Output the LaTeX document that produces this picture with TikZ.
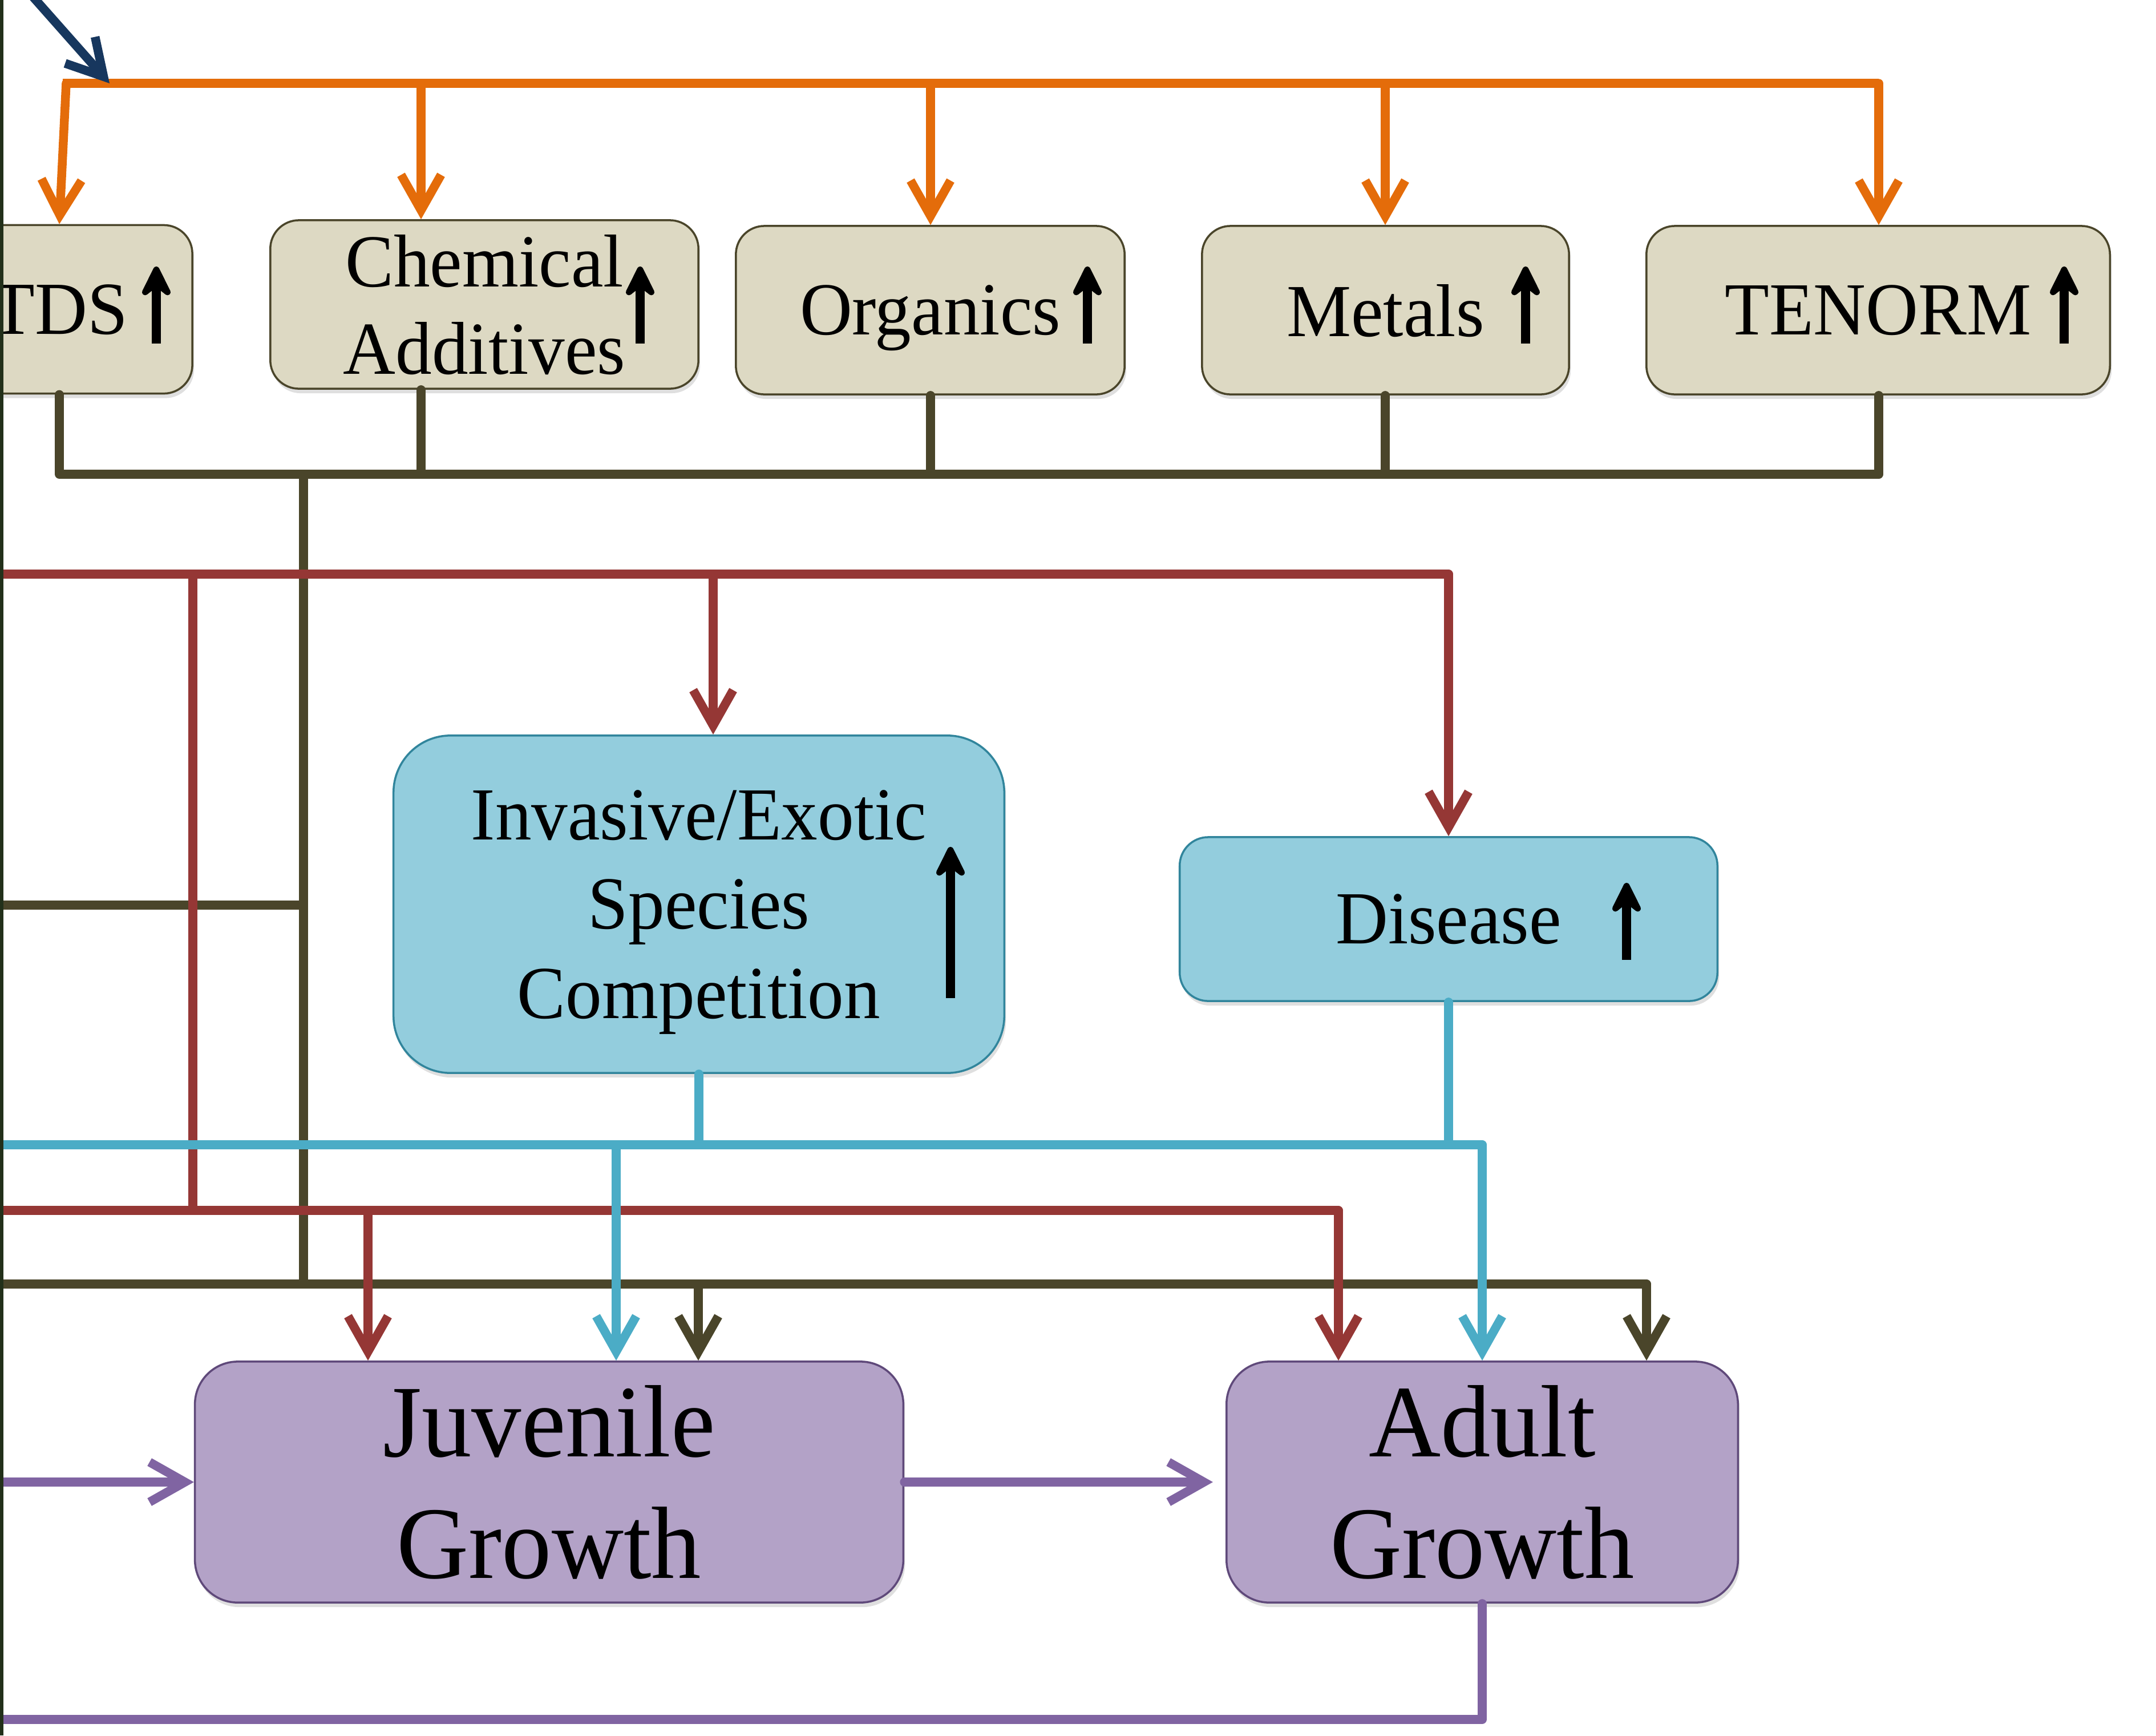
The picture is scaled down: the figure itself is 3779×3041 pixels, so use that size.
\documentclass[tikz,border=0pt]{standalone}
\usepackage{fontspec}
\setmainfont[FakeStretch=0.97]{Liberation Serif}
\usetikzlibrary{arrows.meta,shadows}
\definecolor{tanfill}{HTML}{DDD9C3}
\definecolor{olive}{HTML}{4A452A}
\definecolor{orng}{HTML}{E46C0A}
\definecolor{brick}{HTML}{953735}
\definecolor{aqua}{HTML}{4BACC6}
\definecolor{aquafill}{HTML}{93CDDD}
\definecolor{aquaedge}{HTML}{31859C}
\definecolor{lilac}{HTML}{8064A2}
\definecolor{lilacfill}{HTML}{B3A2C7}
\definecolor{lilacedge}{HTML}{5F497A}
\definecolor{navy}{HTML}{17375E}
\definecolor{strip}{HTML}{22301A}
\begin{document}
\begin{tikzpicture}[x=0.01cm, y=-0.01cm, line join=round, line cap=round, >={Straight Barb[length=0.62cm,width=0.7cm]}]
	\tikzset{every node/.style={inner sep=0pt, align=center},
		box/.style={rounded corners=#1, line width=1pt, drop shadow={shadow xshift=0.03cm, shadow yshift=-0.08cm, opacity=0.25}},
		tanbox/.style={box=0.5cm, draw=olive, fill=tanfill, minimum height=2.95cm, text depth=0pt, font=\fontsize{37.3}{43.5}\selectfont},
		aquabox/.style={box=#1, draw=aquaedge, fill=aquafill, text depth=0pt, font=\fontsize{37.3}{44.5}\selectfont},
		lilacbox/.style={box=0.75cm, draw=lilacedge, fill=lilacfill, minimum height=4.22cm, font=\fontsize{51.2}{60.6}\selectfont},
		wire/.style={line width=4.4pt},
		up/.style={line width=4.5pt, line cap=butt, -{Stealth[length=0.7cm,width=0.69cm,inset=0.27cm,round]}}}
	\useasboundingbox (0,0) rectangle (3779,3041);
	\clip (0,0) rectangle (3779,3041);
	%Boxes
	\node[tanbox, minimum width=4.66cm] (tds) at (104,542) {TDS};
	\node[tanbox, minimum width=7.5cm] (chem) at (849,533.5) {Chemical\\Additives};
	\node[tanbox, minimum width=6.81cm] (org) at (1630.5,543.5) {Organics};
	\node[tanbox, minimum width=6.43cm] (met) at (2428.5,543.5) {Metals};
	\node[tanbox, minimum width=8.12cm] (ten) at (3292,543.5) {TENORM};
	\node[aquabox=1cm, minimum width=10.7cm, minimum height=5.91cm] (inv) at (1225,1584.5) {Invasive/Exotic\\Species\\Competition};
	\node[aquabox=0.5cm, minimum width=9.42cm, minimum height=2.87cm] (dis) at (2539,1610.5) {Disease};
	\node[lilacbox, minimum width=12.41cm] (juv) at (962.5,2597) {Juvenile\\Growth};
	\node[lilacbox, minimum width=8.96cm] (adu) at (2598,2597) {Adult\\Growth};
	%Up arrows
	\foreach \x in {274,1122,1906,2674,3618} \draw[up] (\x,602) -- (\x,467);
	\draw[up] (1666,1749) -- (1666,1484);
	\draw[up] (2851,1682) -- (2851,1547);
	%Orange
	\coordinate (src) at (45,-20);
	\coordinate (hub) at (192,146);
	\draw[orng, wire, line cap=butt] (110,146) -- (3293,146);
	\draw[orng, wire, ->] (116,146) -- (tds.north);
	\foreach \n/\x in {chem/738, org/1631, met/2428, ten/3293} \draw[orng, wire, ->] (\x,146) -- (\x,146 |- \n.north);
	\draw[navy, wire, ->] (src) -- (hub);
	%Olive
	\draw[olive, wire] (tds.south) -- (104,831) -- (3293,831);
	\foreach \n/\x in {chem/738, org/1631, met/2428, ten/3293} \draw[olive, wire] (\x,831 |- \n.south) -- (\x,831);
	\draw[olive, wire] (532,831) -- (532,2250);
	\draw[olive, wire] (532,1586) -- (0,1586);
	\draw[olive, wire] (0,2250) -- (2886,2250);
	\draw[olive, wire, ->] (1224,2250) -- (1224,2250 |- juv.north);
	\draw[olive, wire, ->] (2886,2250) -- (2886,2250 |- adu.north);
	%Red
	\draw[brick, wire] (0,1006) -- (2539,1006);
	\draw[brick, wire, ->] (1250,1006) -- (1250,1006 |- inv.north);
	\draw[brick, wire, ->] (2539,1006) -- (dis.north);
	\draw[brick, wire] (338,1006) -- (338,2121);
	\draw[brick, wire] (0,2121) -- (2346,2121);
	\draw[brick, wire, ->] (645,2121) -- (645,2121 |- juv.north);
	\draw[brick, wire, ->] (2346,2121) -- (2346,2121 |- adu.north);
	%Blue
	\draw[aqua, wire] (inv.south) -- (1225,2006);
	\draw[aqua, wire] (dis.south) -- (2539,2006);
	\draw[aqua, wire] (0,2006) -- (2598,2006);
	\draw[aqua, wire, ->] (1080,2006) -- (1080,2006 |- juv.north);
	\draw[aqua, wire, ->] (2598,2006) -- (adu.north);
	%Purple
	\draw[lilac, wire, ->] (0,2597) -- (juv.west);
	\draw[lilac, wire, ->, shorten >=0.22cm] (juv.east) -- (adu.west);
	\draw[lilac, wire] (adu.south) -- (2598,3013) -- (0,3013);
	\fill[strip] (0,0) rectangle (6,3041);
\end{tikzpicture}
\end{document}
